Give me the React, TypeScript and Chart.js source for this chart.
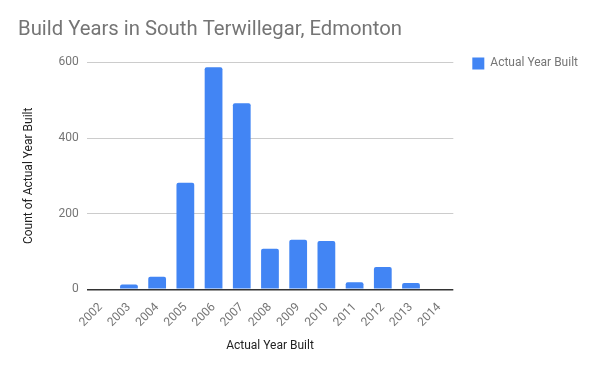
import React, { useEffect, useRef } from "react";
import { Chart, registerables } from "chart.js";

Chart.register(...registerables);

const categories = ["2002", "2003", "2004", "2005", "2006", "2007", "2008", "2009", "2010", "2011", "2012", "2013", "2014"];
const counts = [0, 13, 33, 282, 587, 492, 107, 131, 128, 19, 59, 17, 0];
const yTicks = [0, 200, 400, 600];
const seriesName = "Actual Year Built";
const chartTitle = "Build Years in South Terwillegar, Edmonton";
const yTitle = "Count of Actual Year Built";
const xTitle = "Actual Year Built";

export default function App() {
  const ref = useRef<HTMLCanvasElement | null>(null);
  useEffect(() => {
    document.body.style.margin = "0";
    const ctx = ref.current!;
    const chart = new Chart(ctx, {
      type: "bar",
      data: {
        labels: categories,
        datasets: [
          {
            label: seriesName,
            data: counts,
            backgroundColor: "#4285F4",
            borderRadius: { topLeft: 2, topRight: 2, bottomLeft: 0, bottomRight: 0 },
            borderSkipped: "bottom",
            barPercentage: 0.63,
            categoryPercentage: 1,
          },
        ],
      },
      options: {
        responsive: false,
        animation: false,
        font: { family: "Roboto" },
        layout: { padding: { left: 18, right: 12, top: 0, bottom: 14 } },
        plugins: {
          title: {
            display: true,
            text: chartTitle,
            align: "start",
            color: "#757575",
            font: { family: "Roboto", size: 20.3, weight: "normal" },
            padding: { top: 18, bottom: 20 },
          },
          legend: {
            position: "right",
            align: "start",
            title: {
              display: true,
              text: " ",
              font: { family: "Roboto", size: 12 },
              padding: { top: 0, bottom: 24 },
            },
            labels: {
              boxWidth: 12,
              boxHeight: 12,
              color: "#757575",
              font: { family: "Roboto", size: 12 },
              padding: 19,
            },
          },
          tooltip: { enabled: false },
        },
        scales: {
          x: {
            grid: { display: false },
            border: { display: false },
            ticks: {
              color: "#757575",
              font: { family: "Roboto", size: 12 },
              minRotation: 45,
              maxRotation: 45,
              autoSkip: false,
            },
            title: {
              display: true,
              text: xTitle,
              color: "#222222",
              font: { family: "Roboto", size: 12 },
              padding: { top: 6 },
            },
          },
          y: {
            min: 0,
            max: 600,
            afterBuildTicks: (axis: any) => {
              axis.ticks = yTicks.map((v) => ({ value: v }));
            },
            border: { display: false },
            grid: {
              color: (c: any) => (c.tick && c.tick.value === 0 ? "#333333" : "#cccccc"),
              lineWidth: (c: any) => (c.tick && c.tick.value === 0 ? 1.5 : 1),
              drawTicks: false,
            },
            ticks: {
              color: "#757575",
              font: { family: "Roboto", size: 12 },
              padding: 8,
            },
            title: {
              display: true,
              text: yTitle,
              color: "#222222",
              font: { family: "Roboto", size: 12 },
              padding: { bottom: 14 },
            },
          },
        },
      },
    });
    return () => chart.destroy();
  }, []);
  return (
    <div style={{ width: 600, height: 371 }}>
      <canvas ref={ref} width={600} height={371} />
    </div>
  );
}
